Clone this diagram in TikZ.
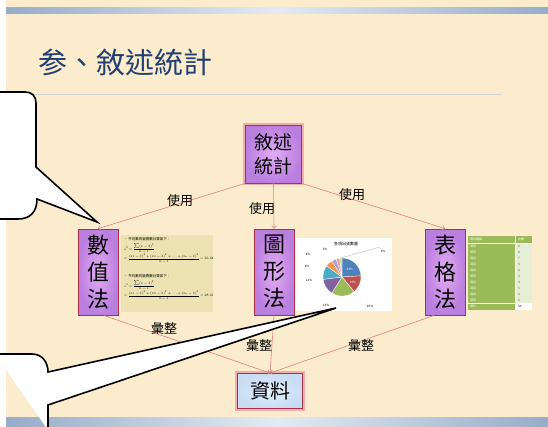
\documentclass[tikz,border=0pt]{standalone}
\usepackage{fontspec}
\setmainfont{Noto Sans CJK TC}
\usetikzlibrary{arrows.meta,calc}
\pgfdeclarelayer{bg}
\pgfsetlayers{bg,main}
\definecolor{paper}{RGB}{250,236,204}
\definecolor{navy}{RGB}{33,63,115}
\definecolor{edgec}{RGB}{226,128,128}
\definecolor{boxline}{RGB}{170,50,72}
\definecolor{purpin}{RGB}{226,172,244}
\definecolor{purpout}{RGB}{186,126,222}
\definecolor{bluein}{RGB}{228,239,252}
\definecolor{blueout}{RGB}{200,220,244}
\definecolor{glowpink}{RGB}{238,150,160}
\definecolor{goldc}{RGB}{246,205,80}
\definecolor{barA}{RGB}{150,172,200}
\definecolor{barB}{RGB}{228,234,242}
\definecolor{tanc}{RGB}{236,226,178}
\definecolor{tgreen}{RGB}{155,187,89}
\definecolor{tpale}{RGB}{230,238,214}
\definecolor{pblue}{RGB}{79,129,189}
\definecolor{pred}{RGB}{192,80,77}
\definecolor{pgreen}{RGB}{155,187,89}
\definecolor{ppurple}{RGB}{128,100,162}
\definecolor{pteal}{RGB}{75,172,198}
\definecolor{porange}{RGB}{247,150,70}
\definecolor{plpurple}{RGB}{170,160,210}
\definecolor{ppink}{RGB}{230,160,160}
\definecolor{plgreen}{RGB}{200,220,160}
\newcommand{\formblock}[1]{\scalebox{0.5}{\fontsize{7}{9}\selectfont\begin{tabular}{@{}l@{}}
  • 平均數的變異數計算如下：\\[4pt]
  $\displaystyle s^2=\frac{\sum(x-\bar x)^2}{n-1}$\\[5pt]
  $\displaystyle =\frac{(x_1-\bar x)^2+(x_2-\bar x)^2+\cdots+(x_n-\bar x)^2}{n-1}=#1$
\end{tabular}}}
\begin{document}
\begin{tikzpicture}[x=1pt,y=-1pt,
  mbox/.style={rectangle, draw=boxline, line width=0.8pt, inner color=purpin, outer color=purpout,
    minimum width=40pt, minimum height=86pt, inner sep=0pt, align=center,
    font=\fontsize{22}{27}\selectfont},
  topbox/.style={rectangle, draw=boxline, line width=0.8pt, inner color=purpin, outer color=purpout,
    minimum width=56pt, minimum height=58pt, inner sep=0pt, align=center,
    font=\fontsize{19}{24}\selectfont,
    preaction={draw=glowpink, line width=4.5pt, opacity=0.7}},
  databox/.style={rectangle, draw=boxline, line width=0.8pt, inner color=bluein, outer color=blueout,
    minimum width=65pt, minimum height=35pt, inner sep=0pt,
    font=\fontsize{20}{24}\selectfont,
    preaction={draw=glowpink, line width=4.5pt, opacity=0.7}},
  conn/.style={draw=edgec, line width=0.6pt, -{To[length=3pt,width=5pt]}},
  lbl/.style={font=\fontsize{13}{15}\selectfont, inner sep=0pt},
  callout/.style={draw=black, fill=white, line width=1.6pt, line join=miter},
  tiny/.style={font=\fontsize{3}{3.6}\selectfont, inner sep=0pt}
]
\useasboundingbox (0,0) rectangle (548,426);
\fill[white] (0,0) rectangle (548,426);
\fill[paper] (6,0) rectangle (548,426);
\shade[left color=barA, right color=barA, middle color=barB] (6,7) rectangle (548,13);
\shade[left color=barA, right color=barA, middle color=barB] (6,417) rectangle (548,426);
\draw[black!18, line width=0.6pt] (30,94) -- (502,94);

% title
\node[anchor=west, text=navy, font=\fontsize{29}{32}\selectfont, inner sep=0pt] (title) at (38,62) {参、敘述統計};

% nodes
\node[topbox] (top) at (273.5,154) {敘述\\統計};
\node[mbox] (num) at (98,272) {數\\值\\法};
\node[mbox] (fig) at (274,272) {圖\\形\\法};
\node[mbox] (tab) at (445,272) {表\\格\\法};
\node[databox] (data) at (270,391) {資料};

\begin{pgfonlayer}{bg}
  \foreach \n in {num,fig,tab}{
    \shade[top color=goldc, bottom color=glowpink!90!red]
      ($(\n.north west)+(-2.6,-2.6)$) rectangle ($(\n.south east)+(2.6,2.6)$);
  }
\end{pgfonlayer}

% formula image
\node[fill=tanc, minimum width=92pt, minimum height=77pt, inner sep=0pt] (fimg) at (167,273.5) {};
\node[anchor=north west, inner sep=0pt] (f1) at (124,237) {\formblock{26.84}};
\node[anchor=north west, inner sep=0pt] (f2) at (124,274) {\formblock{28.61}};

% pie chart image
\node[fill=white, minimum width=96pt, minimum height=73pt, inner sep=0pt] (pimg) at (344,274.5) {};
\node[tiny, font=\fontsize{4}{5}\selectfont] (ptitle) at (346,244) {各項出貨數量};
\coordinate (pc) at (342,277);
\def\pr{19}
\foreach \a/\b/\c in {-90/-3.6/pblue, -3.6/50.4/pred, 50.4/122.4/pgreen, 122.4/172.8/ppurple,
  172.8/216/pteal, 216/237.6/porange, 237.6/252/plpurple, 252/262.8/ppink, 262.8/270/plgreen}{
  \fill[\c, draw=white, line width=0.3pt] (pc) -- ($(pc)+(\a:\pr)$) arc[start angle=\a, end angle=\b, radius=\pr] -- cycle;
}
\node[tiny, text=white] (p1) at ($(pc)+(-45:11)$) {24\%};
\node[tiny, text=white] (p2) at ($(pc)+(25:12)$) {15\%};
\node[tiny] (p3) at (370,306) {20\%};
\node[tiny] (p4) at (326,305) {14\%};
\node[tiny] (p5) at (309,280) {12\%};
\node[tiny] (p6) at (307,266) {6\%};
\node[tiny] (p7) at (308,254) {4\%};
\node[tiny] (p8) at (325,249) {3\%};
\node[tiny] (p9) at (383,251) {2\%};
\draw[black!30, line width=0.3pt] ($(pc)+(266:\pr)$) -- (380,247);

% table image
\node[fill=tgreen, minimum width=64pt, minimum height=74pt, inner sep=0pt] (timg) at (500,273) {};
\fill[tpale] (515,243) rectangle (532,303);
\fill[white] (515,303) rectangle (532,310);
\draw[white, line width=0.4pt] (468,243) -- (532,243);
\draw[white, line width=0.4pt] (468,303) -- (532,303);
\draw[white, line width=0.3pt] (515,236) -- (515,310);
\node[tiny, text=white, anchor=west] (th1) at (470,239.5) {資料種類};
\node[tiny, text=white, anchor=west] (th2) at (518,239.5) {次數};
\foreach \i/\v in {0/6,1/8,2/7,3/5,4/6,5/4,6/3,7/5,8/3,9/3}{
  \node[tiny, text=white, anchor=west] at (470,246+6*\i) {項目};
  \node[tiny, text=black!70, anchor=west] at (518,246+6*\i) {\v};
}
\node[tiny, text=white, anchor=west] (tt1) at (470,306.5) {總計};
\node[tiny, anchor=west] (tt2) at (518,306.5) {50};

% connectors
\draw[conn] (top.south west) -- (num.north);
\draw[conn] (top.south) -- (fig.north);
\draw[conn] (top.south east) -- (tab.north);
\draw[conn] ([xshift=6pt]num.south) -- (data.north);
\draw[conn] (fig.south) -- (data.north);
\draw[conn] ([xshift=-11pt]tab.south) -- (data.north);

% labels
\node[lbl] (u1) at (180,201) {使用};
\node[lbl] (u2) at (262,209) {使用};
\node[lbl] (u3) at (352,195) {使用};
\node[lbl] (h1) at (164,329) {彙整};
\node[lbl] (h2) at (259,346) {彙整};
\node[lbl] (h3) at (361,346) {彙整};

% callouts
\draw[callout] (-5,92) -- (25,92) .. controls (32,92) and (36,96) .. (36,103)
  -- (36,167) -- (97,222) -- (37,199) .. controls (37,212) and (30,219) .. (18,219) -- (-5,219);
\draw[callout] (-5,354) -- (32,354) .. controls (42,354) and (48,362) .. (48,372)
  -- (336,308) -- (48,405) -- (48,430);
\end{tikzpicture}
\end{document}
